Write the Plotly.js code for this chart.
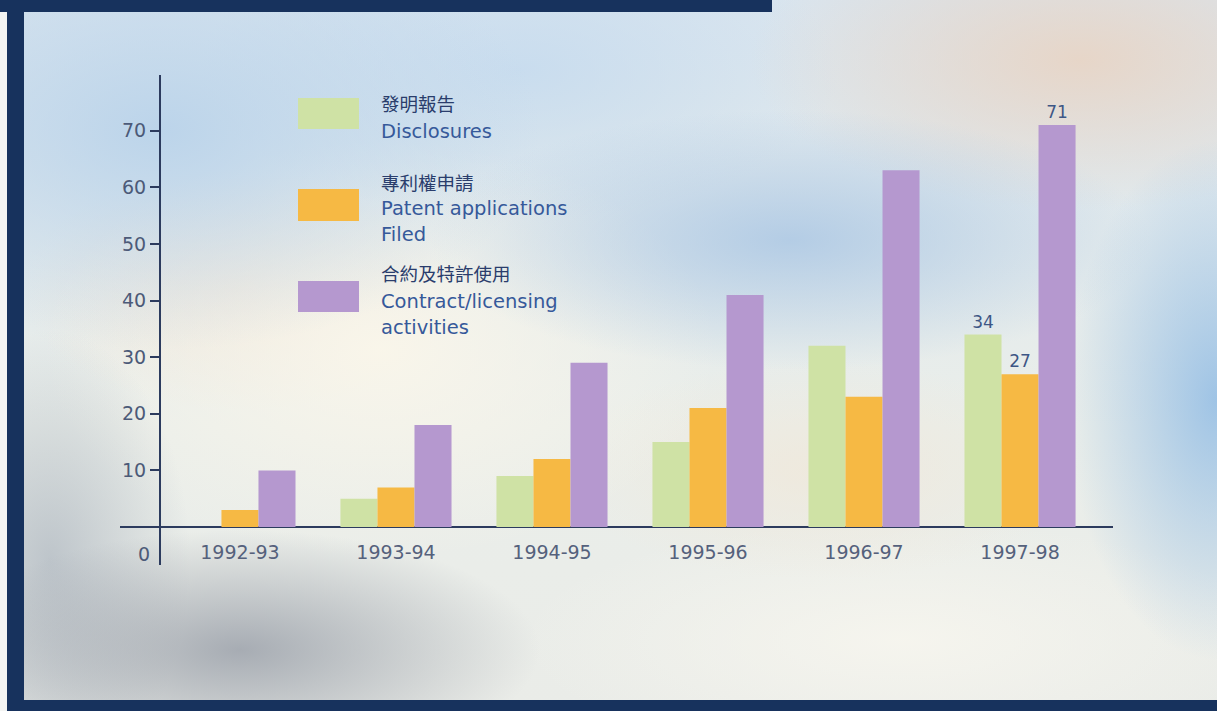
<!DOCTYPE html>
<html><head><meta charset="utf-8">
<script src="https://cdn.plot.ly/plotly-3.0.1.min.js"></script>
<style>
html,body{margin:0;padding:0;background:#fff;}
#wrap{position:relative;width:1217px;height:711px;overflow:hidden;
background:
 radial-gradient(ellipse 300px 120px at 240px 650px, rgba(150,156,166,0.8), rgba(150,156,166,0) 100%),
 radial-gradient(ellipse 140px 230px at 50px 560px, rgba(160,170,182,0.6), rgba(160,170,182,0) 100%),
 radial-gradient(ellipse 150px 260px at 1217px 400px, rgba(140,185,228,0.8), rgba(140,185,228,0) 100%),
 radial-gradient(ellipse 360px 130px at 790px 240px, rgba(160,192,226,0.7), rgba(160,192,226,0) 100%),
 radial-gradient(ellipse 330px 150px at 1080px 60px, rgba(232,212,196,0.9), rgba(232,212,196,0) 100%),
 radial-gradient(ellipse 380px 220px at 160px 130px, rgba(184,210,234,0.9), rgba(184,210,234,0) 100%),
 radial-gradient(ellipse 320px 150px at 520px 70px, rgba(196,218,238,0.8), rgba(196,218,238,0) 100%),
 radial-gradient(ellipse 340px 210px at 380px 350px, rgba(250,246,234,0.95), rgba(250,246,234,0) 100%),
 radial-gradient(ellipse 220px 120px at 240px 290px, rgba(242,222,202,0.6), rgba(242,222,202,0) 100%),
 radial-gradient(ellipse 260px 110px at 820px 470px, rgba(240,232,218,0.8), rgba(240,232,218,0) 100%),
 radial-gradient(ellipse 380px 120px at 900px 640px, rgba(246,245,238,0.95), rgba(246,245,238,0) 100%),
 linear-gradient(180deg, #d9e5ef 0%, #eaeeea 60%, #eaece8 100%);}
#chart{position:absolute;left:0;top:0;width:1217px;height:711px;}
.navy{position:absolute;background:#17325d;}
</style></head><body>
<div id="wrap">
 <div class="navy" style="left:0;top:0;width:772px;height:12px"></div>
 <div style="position:absolute;left:0;top:12px;width:7px;height:699px;background:#f3f4f2"></div>
 <div class="navy" style="left:7px;top:12px;width:17px;height:699px"></div>
 <div class="navy" style="left:7px;top:700px;width:1210px;height:11px"></div>
 <div id="chart"></div>
</div>
<script>
const categories = ['1992-93','1993-94','1994-95','1995-96','1996-97','1997-98'];
const disclosures = [0, 5, 9, 15, 32, 34];
const patents = [3, 7, 12, 21, 23, 27];
const contracts = [10, 18, 29, 41, 63, 71];
const seriesZh = ['發明報告', '專利權申請', '合約及特許使用'];
const seriesEn = [['Disclosures'], ['Patent applications', 'Filed'], ['Contract/licensing', 'activities']];
const seriesColors = ['#cfe2a5', '#f6b944', '#b598cf'];
const yTickVals = [10, 20, 30, 40, 50, 60, 70];
const zeroLabel = '0';

const L = 120, R = 1113, T = 75, B = 565;
function fx(x){ return (x - L) / (R - L); }
function fy(y){ return (B - y) / (B - T); }

const NUM = 'DejaVu Sans, Liberation Sans, sans-serif';
const CJK = 'Noto Sans CJK TC, Noto Sans CJK SC, sans-serif';
const AX = '#2c3b5e';

function lastOnly(arr){ return arr.map((v, i) => i === arr.length - 1 ? String(v) : ''); }

const allSeries = [disclosures, patents, contracts];
const traces = allSeries.map((vals, k) => ({
  type: 'bar', x: categories, y: vals, name: seriesEn[k].join(' '),
  marker: { color: seriesColors[k], line: { width: 0 } },
  text: lastOnly(vals), textposition: 'outside', cliponaxis: false,
  textfont: { family: NUM, size: 17, color: '#3d5685' },
  hoverinfo: 'skip', showlegend: false
}));

const shapes = [];
const annotations = [];
const legendBoxes = [[98, 129], [189, 221], [281, 312]];
const legendLines = [
  [[103, true], [131, false]],
  [[182, true], [209, false], [234, false]],
  [[273, true], [301, false], [327, false]]
];
for (let k = 0; k < 3; k++) {
  shapes.push({ type: 'rect', xref: 'paper', yref: 'paper',
    x0: fx(298), x1: fx(359), y0: fy(legendBoxes[k][1]), y1: fy(legendBoxes[k][0]),
    fillcolor: seriesColors[k], line: { width: 0 }, layer: 'above' });
  const texts = [seriesZh[k]].concat(seriesEn[k]);
  texts.forEach((t, j) => {
    const [yy, zh] = legendLines[k][j];
    annotations.push({ xref: 'paper', yref: 'paper', x: fx(379), y: fy(yy),
      xanchor: 'left', yanchor: 'middle', showarrow: false, text: t,
      font: zh ? { family: CJK, size: 18.5, color: '#2a3d6c' } : { family: NUM, size: 19.5, color: '#36599a' } });
  });
}
annotations.push({ xref: 'paper', yref: 'paper', x: fx(144), y: fy(554),
  xanchor: 'center', yanchor: 'middle', showarrow: false, text: zeroLabel,
  font: { family: NUM, size: 19, color: '#4c5a78' } });

const layout = {
  width: 1217, height: 711,
  margin: { l: L, r: 1217 - R, t: T, b: 711 - B, pad: 0 },
  paper_bgcolor: 'rgba(0,0,0,0)', plot_bgcolor: 'rgba(0,0,0,0)',
  barmode: 'group', bargap: 0.288, bargroupgap: 0,
  showlegend: false,
  xaxis: { type: 'category', range: [-0.769, 5.596], anchor: 'free', position: fy(539),
    showline: false, ticks: '', showgrid: false, zeroline: false, fixedrange: true,
    tickfont: { family: NUM, size: 19, color: '#55617c' } },
  yaxis: { range: [-6.71, 79.84], anchor: 'free', position: fx(160),
    showline: true, linecolor: AX, linewidth: 2,
    ticks: 'outside', ticklen: 9, tickwidth: 2, tickcolor: AX,
    tickvals: yTickVals, showgrid: false, fixedrange: true,
    zeroline: true, zerolinecolor: AX, zerolinewidth: 2,
    tickfont: { family: NUM, size: 19, color: '#4c5a78' } },
  shapes: shapes, annotations: annotations
};
Plotly.newPlot('chart', traces, layout, { displayModeBar: false, staticPlot: true });
</script>
</body></html>
